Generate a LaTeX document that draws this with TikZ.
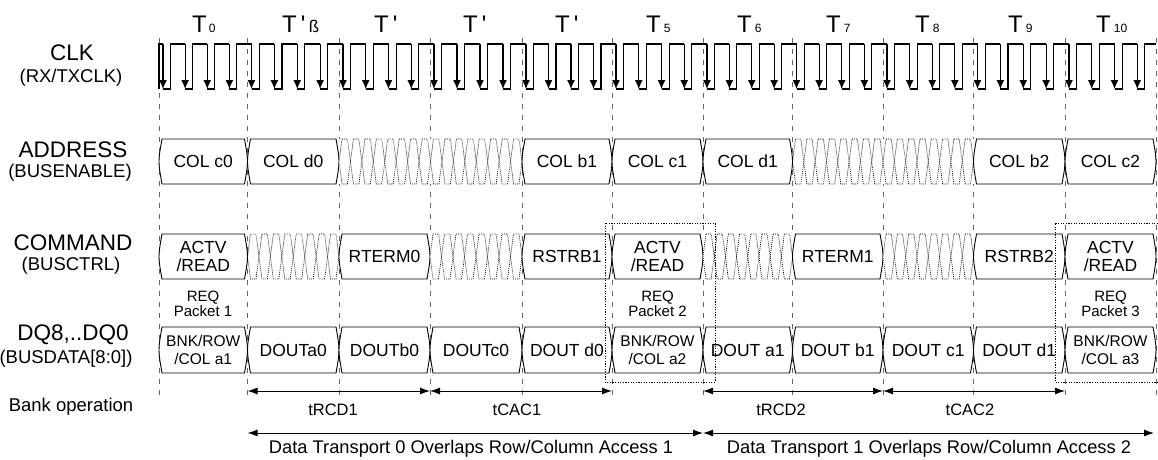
\documentclass[tikz,border=0pt]{standalone}
\usepackage{fontspec}
\setmainfont{Liberation Sans}
\newfontfamily\plainsans{Liberation Sans}
\usetikzlibrary{arrows.meta}
\newcommand\fs[2]{\fontsize{#1}{#2}\selectfont}
\tikzset{
  wave/.style={line width=1.1pt, black},
  gridl/.style={line width=0.7pt, black!60, dash pattern=on 5pt off 6pt},
  boxl/.style={line width=0.9pt, fill=white},
  dc/.style={line width=0.7pt, black, dash pattern=on 0.9pt off 1.1pt},
  frame/.style={line width=0.8pt, dash pattern=on 1.2pt off 1.4pt},
  cell/.style={font=\fs{17.5}{18}, inner sep=0pt, align=center},
  cellsm/.style={font=\fs{15.5}{17.5}, inner sep=0pt, align=center},
  siglab/.style={font=\fs{22.5}{24}, inner sep=0pt},
  sublab/.style={font=\fs{18.5}{20}, inner sep=0pt},
  tim/.style={line width=1pt, {Latex[length=10pt,width=7pt]}-{Latex[length=10pt,width=7pt]}},
  timlab/.style={font=\fs{16.5}{18}, inner sep=0pt},
  req/.style={font=\fs{15}{15.5}, inner sep=0pt, align=center},
  tl/.style={font=\plainsans\fs{24}{26}, inner sep=0pt, anchor=base west},
}
% bus box: x0 x1 top bottom name style text
\newcommand\bbox[7]{%
  \draw[boxl] (#1+3,#3) -- (#2-3,#3) .. controls (#2+1,{(#3+#4)/2}) .. (#2-3,#4)
     -- (#1+3,#4) .. controls (#1-1,{(#3+#4)/2}) .. (#1+3,#3) -- cycle;
  \node[#6] (#5) at ({(#1+#2)/2},{(#3+#4)/2}) {#7};
}
% don't care: x0 x1 top bottom n
\newcommand\dcare[5]{%
  \fill[white] (#1,#3) rectangle (#2,#4);
  \foreach \k in {1,...,#5}{
    \pgfmathsetmacro\xa{#1+(\k-1)*(#2-#1)/#5}
    \pgfmathsetmacro\xb{#1+\k*(#2-#1)/#5}
    \draw[dc] (\xa+3,#3) -- (\xb-3,#3) -- (\xb,{(#3+#4)/2}) -- (\xb-3,#4)
       -- (\xa+3,#4) -- (\xa,{(#3+#4)/2}) -- cycle;
  }
}
\begin{document}
\begin{tikzpicture}[x=1pt,y=-1pt]
\useasboundingbox (0,0) rectangle (1158,459);

% cycle boundaries and grid lines
\foreach \x [count=\i from 0] in {159,247.5,339,430,522,612,703,792.5,883,973.5,1065,1156}{
  \coordinate (b\i) at (\x,38);
  \coordinate (e\i) at (\x,397);
  \draw[gridl] (b\i) -- (e\i);
}

% cycle labels
\node[tl] (t0) at (192,32) {T\hspace{2pt}{\fs{12}{12}0}};
\node[tl] (t1) at (282,32) {T\hspace{4pt}'\hspace{3.5pt}{\fs{17}{17}ß}};
\node[tl] (t2) at (374,32) {T\hspace{4pt}'};
\node[tl] (t3) at (463,32) {T\hspace{4pt}'};
\node[tl] (t4) at (555,32) {T\hspace{4pt}'};
\node[tl] (t5) at (646,32) {T\hspace{3pt}{\fs{12}{12}5}};
\node[tl] (t6) at (737,32) {T\hspace{3pt}{\fs{12}{12}6}};
\node[tl] (t7) at (826,32) {T\hspace{3pt}{\fs{12}{12}7}};
\node[tl] (t8) at (915,32) {T\hspace{3pt}{\fs{12}{12}8}};
\node[tl] (t9) at (1008,32) {T\hspace{3pt}{\fs{12}{12}9}};
\node[tl] (t10) at (1096,32) {T\hspace{3pt}{\fs{12}{12}10}};

% signal labels
\node[siglab] (lclk) at (72,53) {CLK};
\node[sublab] (lclk2) at (71,78) {(RX/TXCLK)};
\node[siglab] (laddr) at (73,150) {ADDRESS};
\node[sublab] (laddr2) at (70,173) {(BUSENABLE)};
\node[siglab] (lcmd) at (73,243) {COMMAND};
\node[sublab] (lcmd2) at (71,266) {(BUSCTRL)};
\node[siglab] (ldq) at (73,335) {DQ8,..DQ0};
\node[sublab] (ldq2) at (66,359) {(BUSDATA[8:0])};
\node[sublab] (lbank) at (71,407) {Bank operation};

% clock
\draw[wave] (159,89) -- (159,44) -- (163,44);
\foreach \xa/\xb in {159/247.5,247.5/339,339/430,430/522,522/612,612/703,703/792.5,792.5/883,883/973.5,973.5/1065,1065/1156}{
  \pgfmathsetmacro\q{(\xb-\xa)/4}
  \foreach \j in {0,1,2,3}{
    \pgfmathsetmacro\f{\xa+4+\j*\q}
    \pgfmathsetmacro\r{\f+\q/3}
    \pgfmathsetmacro\e{min(\f+\q,1156)}
    \draw[wave,-{Latex[length=9pt,width=8pt]}] (\f,44) -- (\f,89);
    \draw[wave] (\f,89) -- (\r,89) -- (\r,44) -- (\e,44);
  }
}

% ADDRESS row
\bbox{159}{247.5}{139}{184}{ac0}{cell}{COL c0}
\bbox{247.5}{339}{139}{184}{ad0}{cell}{COL d0}
\dcare{339}{522}{139}{184}{16}
\bbox{522}{612}{139}{184}{ab1}{cell}{COL b1}
\bbox{612}{703}{139}{184}{ac1}{cell}{COL c1}
\bbox{703}{792.5}{139}{184}{ad1}{cell}{COL d1}
\dcare{792.5}{973.5}{139}{184}{16}
\bbox{973.5}{1065}{139}{184}{ab2}{cell}{COL b2}
\bbox{1065}{1156}{139}{184}{ac2}{cell}{COL c2}

% COMMAND row
\bbox{159}{247.5}{234}{279}{c1}{cell}{ACTV\\/READ}
\dcare{247.5}{339}{234}{279}{8}
\bbox{339}{430}{234}{279}{c2}{cell}{RTERM0}
\dcare{430}{522}{234}{279}{8}
\bbox{522}{612}{234}{279}{c3}{cell}{RSTRB1}
\bbox{612}{703}{234}{279}{c4}{cell}{ACTV\\/READ}
\dcare{703}{792.5}{234}{279}{8}
\bbox{792.5}{883}{234}{279}{c5}{cell}{RTERM1}
\dcare{883}{973.5}{234}{279}{8}
\bbox{973.5}{1065}{234}{279}{c6}{cell}{RSTRB2}
\bbox{1065}{1156}{234}{279}{c7}{cell}{ACTV\\/READ}

% request packet labels
\node[req] (rq1) at (203,304) {REQ\\Packet 1};
\node[req] (rq2) at (657.5,304) {REQ\\Packet 2};
\node[req] (rq3) at (1110.5,304) {REQ\\Packet 3};

% DQ row
\bbox{159}{247.5}{327}{373}{q1}{cellsm}{BNK/ROW\\/COL a1}
\bbox{247.5}{339}{327}{373}{q2}{cell}{DOUTa0}
\bbox{339}{430}{327}{373}{q3}{cell}{DOUTb0}
\bbox{430}{522}{327}{373}{q4}{cell}{DOUTc0}
\bbox{522}{612}{327}{373}{q5}{cell}{DOUT d0}
\bbox{612}{703}{327}{373}{q6}{cellsm}{BNK/ROW\\/COL a2}
\bbox{703}{792.5}{327}{373}{q7}{cell}{DOUT a1}
\bbox{792.5}{883}{327}{373}{q8}{cell}{DOUT b1}
\bbox{883}{973.5}{327}{373}{q9}{cell}{DOUT c1}
\bbox{973.5}{1065}{327}{373}{q10}{cell}{DOUT d1}
\bbox{1065}{1156}{327}{373}{q11}{cellsm}{BNK/ROW\\/COL a3}

% dotted frames around request packets
\draw[frame] (605,223) rectangle (715,382);
\draw[frame] (1158,223) -- (1055,223) -- (1055,382) -- (1158,382);

% timing arrows
\coordinate (a1) at (247.5,391);
\coordinate (a3) at (430,391);
\coordinate (a5) at (612,391);
\coordinate (a6) at (703,391);
\coordinate (a8) at (883,391);
\coordinate (a10) at (1065,391);
\draw[tim] (a1) -- (a3);
\draw[tim] (a3) -- (a5);
\draw[tim] (a6) -- (a8);
\draw[tim] (a8) -- (a10);
\node[timlab] (rcd1) at (333,410) {tRCD1};
\node[timlab] (cac1) at (517,410) {tCAC1};
\node[timlab] (rcd2) at (781,410) {tRCD2};
\node[timlab] (cac2) at (970,410) {tCAC2};

\coordinate (d1) at (247.5,433);
\coordinate (d6) at (703,433);
\coordinate (d11) at (1154,433);
\draw[tim] (d1) -- (d6);
\draw[tim] (d6) -- (d11);
\node[font=\fs{18.3}{20}, inner sep=0pt] (dt0) at (471,449) {Data Transport 0 Overlaps Row/Column Access 1};
\node[font=\fs{18.3}{20}, inner sep=0pt] (dt1) at (929,449) {Data Transport 1 Overlaps Row/Column Access 2};
\end{tikzpicture}
\end{document}
